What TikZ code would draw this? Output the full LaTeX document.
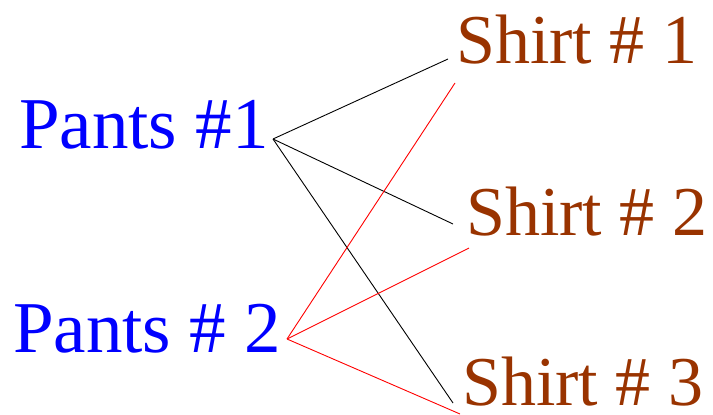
\documentclass[tikz,border=0pt]{standalone}
\usepackage{fontspec}
\setmainfont{Liberation Serif}
\definecolor{pantsblue}{RGB}{0,0,255}
\definecolor{shirtbrown}{RGB}{153,51,0}
\tikzset{
    pants/.style={anchor=base west,inner sep=0pt,text=pantsblue,font=\fontsize{73}{80}\selectfont},
    shirt/.style={anchor=base west,inner sep=0pt,text depth=0pt,text=shirtbrown,font=\fontsize{70}{80}\selectfont}
}
\begin{document}
\begin{tikzpicture}[x=1pt,y=-1pt]
        \useasboundingbox (0,0) rectangle (713,415);
        \node [pants] (pA) at (19,148) {Pants \#1};
        \node [pants] (pB) at (13,352) {Pants \# 2};
        \node [shirt] (sA) at (456,63) {Shirt \# 1};
        \node [shirt] (sB) at (466,235) {Shirt \# 2};
        \node [shirt] (sC) at (462,405) {Shirt \# 3};
        % ends of the lines
        \coordinate (pAend) at (273,139);
        \coordinate (pBend) at (287,339);
        \coordinate (sAblack) at (448,59);
        \coordinate (sAred) at (455,83);
        \coordinate (sBblack) at (453,224);
        \coordinate (sBred) at (469,248);
        \coordinate (sCblack) at (453,403);
        \coordinate (sCred) at (460,414);
        \foreach \s in {sAblack,sBblack,sCblack}
            \draw [black,line width=0.9pt] (pAend) -- (\s);
        \foreach \s in {sAred,sBred,sCred}
            \draw [red,line width=0.9pt] (pBend) -- (\s);
\end{tikzpicture}
\end{document}
